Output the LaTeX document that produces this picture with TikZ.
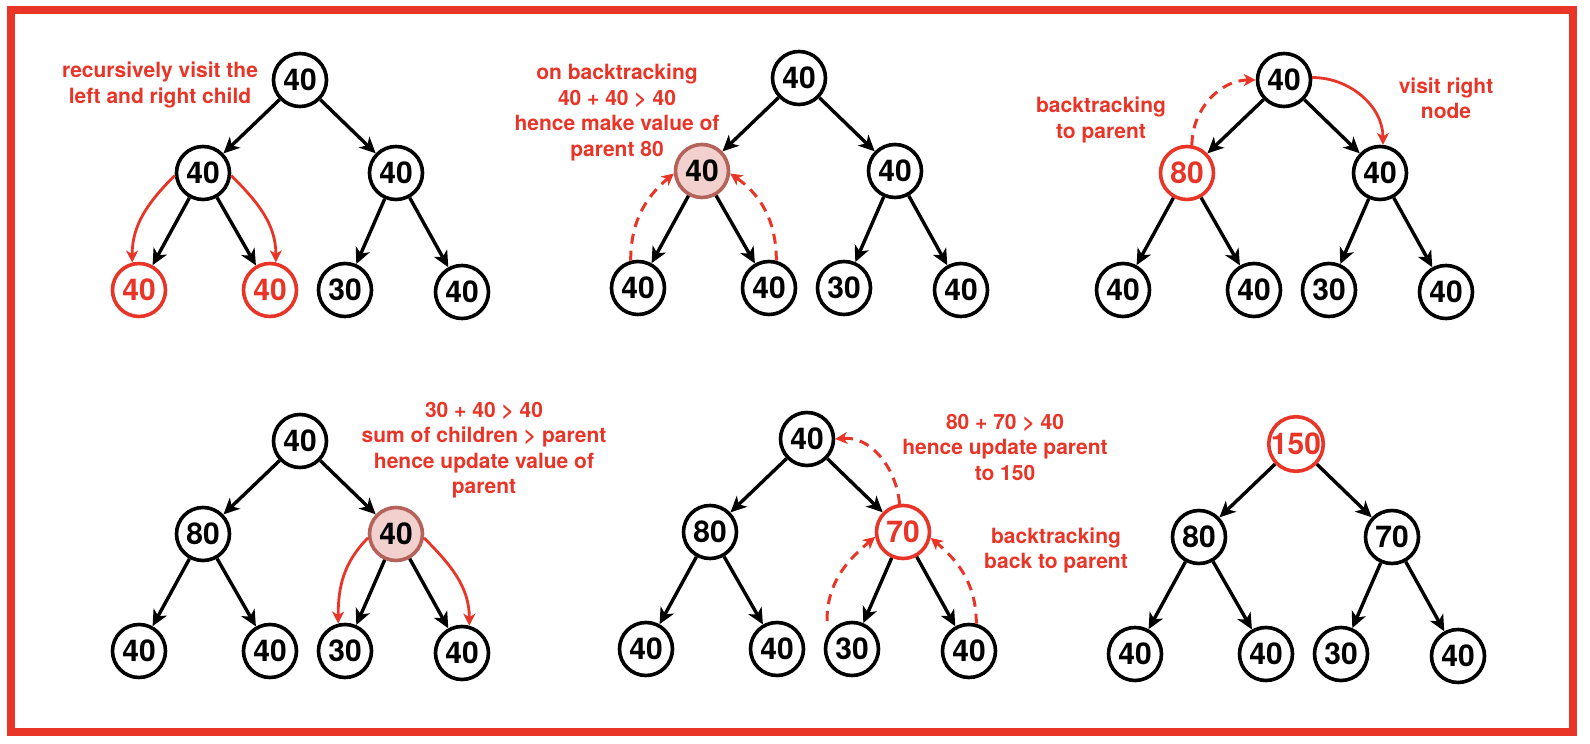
\documentclass[tikz,border=0pt]{standalone}
\usepackage{fontspec}
\setmainfont{TeX Gyre Heros}
\usetikzlibrary{arrows.meta}
\definecolor{myred}{RGB}{233,53,40}
\definecolor{pinkfill}{RGB}{242,208,205}
\definecolor{pinkline}{RGB}{181,98,90}
\begin{document}
\begin{tikzpicture}[x=1pt,y=1pt,
  nd/.style={circle,draw,line width=3.6pt,minimum size=53pt,inner sep=0pt,font=\fontsize{30}{30}\selectfont\bfseries},
  rednd/.style={nd,draw=myred,text=myred},
  pinknd/.style={nd,fill=pinkfill,draw=pinkline},
  edge/.style={line width=3.4pt,-{Stealth[length=16pt,width=15pt,inset=4.5pt]}},
  redarr/.style={myred,line width=2.8pt,-{Stealth[length=12pt,width=12pt,inset=3.5pt]}},
  dasharr/.style={redarr,line width=3pt,dash pattern=on 10pt off 7pt},
  lbl/.style={text=myred,align=center,inner sep=0pt,font=\fontsize{21}{25.5}\selectfont\bfseries}]
\useasboundingbox (0,0) rectangle (1590,744);
\draw[myred,line width=8pt] (11,12) rectangle (1573,734);

% Tree A
\begin{scope}[shift={(300,664)}]
\node[nd] (A0) at (0,0) {40};
\node[nd] (A1) at (-97,-93) {40};
\node[nd] (A2) at (96,-93) {40};
\node[rednd] (A3) at (-161,-210) {40};
\node[rednd] (A4) at (-30,-210) {40};
\node[nd] (A5) at (45,-210) {30};
\node[nd] (A6) at (162,-212) {40};
\end{scope}
% Tree B
\begin{scope}[shift={(799,666)}]
\node[nd] (B0) at (0,0) {40};
\node[pinknd] (B1) at (-97,-93) {40};
\node[nd] (B2) at (96,-93) {40};
\node[nd] (B3) at (-161,-210) {40};
\node[nd] (B4) at (-30,-210) {40};
\node[nd] (B5) at (45,-210) {30};
\node[nd] (B6) at (162,-212) {40};
\end{scope}
% Tree C
\begin{scope}[shift={(1284,664)}]
\node[nd] (C0) at (0,0) {40};
\node[rednd] (C1) at (-97,-93) {80};
\node[nd] (C2) at (96,-93) {40};
\node[nd] (C3) at (-161,-210) {40};
\node[nd] (C4) at (-30,-210) {40};
\node[nd] (C5) at (45,-210) {30};
\node[nd] (C6) at (162,-212) {40};
\end{scope}
% Tree D
\begin{scope}[shift={(300,303)}]
\node[nd] (D0) at (0,0) {40};
\node[nd] (D1) at (-97,-93) {80};
\node[pinknd] (D2) at (96,-93) {40};
\node[nd] (D3) at (-161,-210) {40};
\node[nd] (D4) at (-30,-210) {40};
\node[nd] (D5) at (45,-210) {30};
\node[nd] (D6) at (162,-212) {40};
\end{scope}
% Tree E
\begin{scope}[shift={(807,305)}]
\node[nd] (E0) at (0,0) {40};
\node[nd] (E1) at (-97,-93) {80};
\node[rednd] (E2) at (96,-93) {70};
\node[nd] (E3) at (-161,-210) {40};
\node[nd] (E4) at (-30,-210) {40};
\node[nd] (E5) at (45,-210) {30};
\node[nd] (E6) at (162,-212) {40};
\end{scope}
% Tree F
\begin{scope}[shift={(1296,300)}]
\node[rednd] (F0) at (0,0) {150};
\node[nd] (F1) at (-97,-93) {80};
\node[nd] (F2) at (96,-93) {70};
\node[nd] (F3) at (-161,-210) {40};
\node[nd] (F4) at (-30,-210) {40};
\node[nd] (F5) at (45,-210) {30};
\node[nd] (F6) at (162,-212) {40};
\end{scope}

\foreach \t in {A,B,C,D,E,F}{
  \draw[edge] (\t0) -- (\t1);
  \draw[edge] (\t0) -- (\t2);
  \draw[edge] (\t1) -- (\t3);
  \draw[edge] (\t1) -- (\t4);
  \draw[edge] (\t2) -- (\t5);
  \draw[edge] (\t2) -- (\t6);
}

% red connectors
\draw[redarr] (A1.185) to[out=-135,in=90] (A3.104);
\draw[redarr] (A1.-5) to[out=-45,in=90] (A4.78);
\draw[dasharr] (B3.105) to[out=90,in=-140] (B1.185);
\draw[dasharr] (B4.75) to[out=90,in=-35] (B1.-5);
\draw[dasharr] (C1.80) to[out=90,in=180] (C0.180);
\draw[redarr] (C0.5) to[out=0,in=90] (C2.84);
\draw[redarr] (D2.188) to[out=-135,in=90] (D5.104);
\draw[redarr] (D2.-8) to[out=-45,in=90] (D6.75);
\coordinate (E5s) at ([shift={(-25,28)}]E5.center);
\draw[dasharr] (E5s) to[out=90,in=-140] (E2.190);
\draw[dasharr] (E6.75) to[out=90,in=-40] (E2.-12);
\draw[dasharr] (E2.97) to[out=95,in=5] (E0.0);

% labels
\node[lbl] (L1) at (160,659) {recursively visit the\\left and right child};
\node[lbl] (L2) at (617,631.5) {on backtracking\\40 + 40 > 40\\hence make value of\\parent 80};
\node[lbl] (L3) at (1101,624) {backtracking\\to parent};
\node[lbl] (L4) at (1446,645.5) {visit right\\node};
\node[lbl] (L5) at (484,294) {30 + 40 > 40\\sum of children > parent\\hence update value of\\parent};
\node[lbl] (L6) at (1005,297) {80 + 70 > 40\\hence update parent\\to 150};
\node[lbl] (L7) at (1056,193.5) {backtracking\\back to parent};
\end{tikzpicture}
\end{document}
